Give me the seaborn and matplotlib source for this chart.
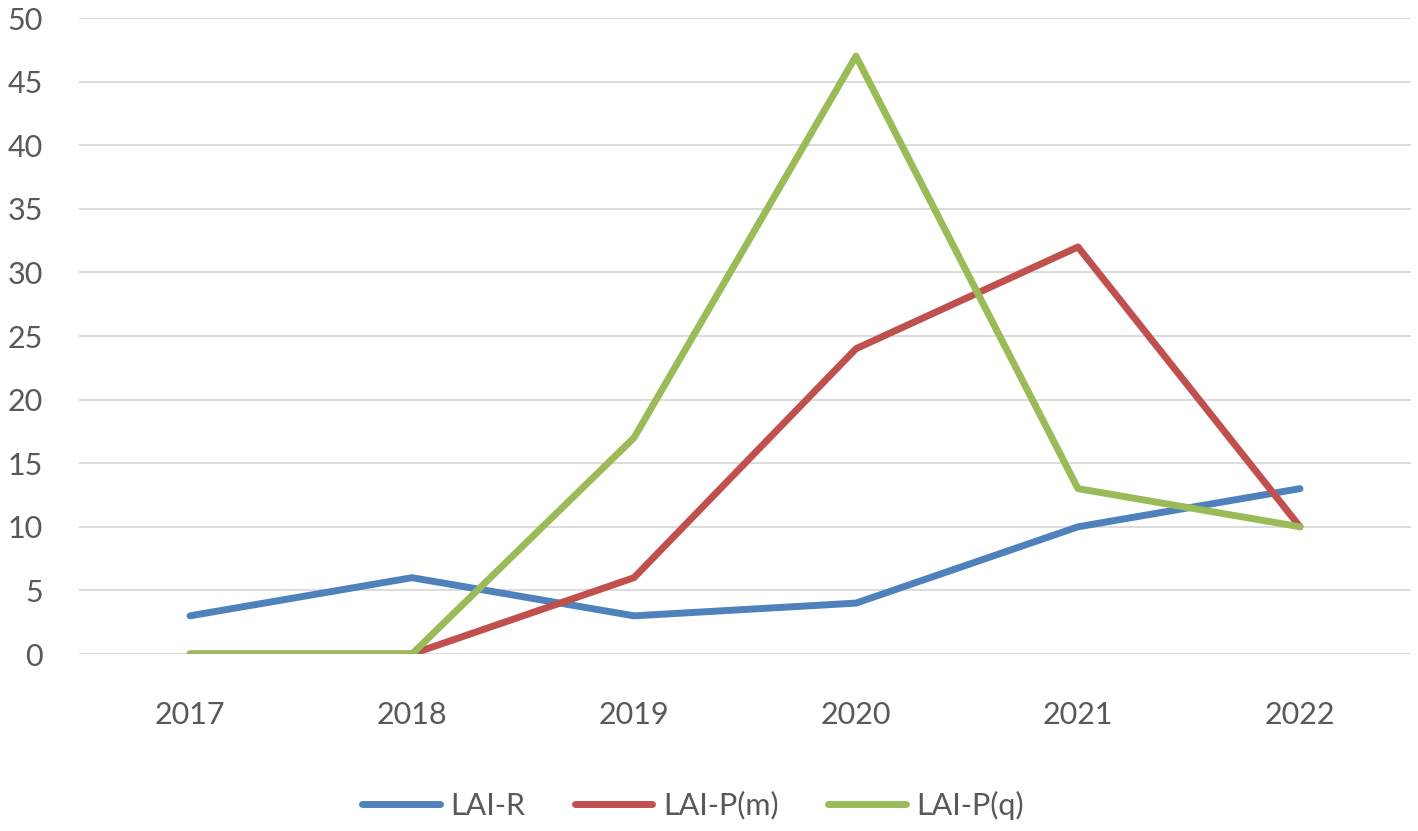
import matplotlib
matplotlib.use("Agg")
import matplotlib.pyplot as plt
import seaborn as sns
import pandas as pd

years = ["2017", "2018", "2019", "2020", "2021", "2022"]
lai_r = [3, 6, 3, 4, 10, 13]
lai_pm = [0, 0, 6, 24, 32, 10]
lai_pq = [0, 0, 17, 47, 13, 10]
series_names = ["LAI-R", "LAI-P(m)", "LAI-P(q)"]
colors = ["#4F81BD", "#C0504D", "#9BBB59"]

df = pd.DataFrame({
    "year": years * 3,
    "value": lai_r + lai_pm + lai_pq,
    "series": [series_names[0]] * 6 + [series_names[1]] * 6 + [series_names[2]] * 6,
})

sns.set_theme(style="white")
plt.rcParams['font.family'] = ['Lato', 'DejaVu Sans']

fig = plt.figure(figsize=(14.18, 8.31), dpi=100)
ax = fig.add_axes([79/1418, 1-654/831, 1332/1418, 636/831])

sns.lineplot(data=df, x="year", y="value", hue="series", palette=colors,
             linewidth=5, ax=ax, sort=False, legend=True)
for ln in ax.lines:
    ln.set_solid_capstyle("round")
    ln.set_solid_joinstyle("round")

ax.set_xlim(-0.5, 5.5)
ax.set_ylim(0, 50)
ax.set_yticks(range(0, 51, 5))
ax.yaxis.grid(True, color="#D9D9D9", linewidth=1.3)
ax.xaxis.grid(False)
ax.set_axisbelow(True)
for s in ax.spines.values():
    s.set_visible(False)
ax.set_xlabel("")
ax.set_ylabel("")
ax.tick_params(axis="y", length=0, pad=26, labelsize=22, labelcolor="#595959")
ax.tick_params(axis="x", length=0, pad=34, labelsize=22, labelcolor="#595959")

handles, labels = ax.get_legend_handles_labels()
ax.legend_.remove()
leg = fig.legend(handles, labels, loc="center", bbox_to_anchor=(693/1418, 1-805/831),
                 ncol=3, frameon=False, fontsize=22, handlelength=2.55,
                 columnspacing=1.6, handletextpad=0.35)
for t in leg.get_texts():
    t.set_color("#595959")
for h in leg.legend_handles:
    h.set_linewidth(5)
    h.set_solid_capstyle("round")

fig.savefig("out.png", dpi=100)
